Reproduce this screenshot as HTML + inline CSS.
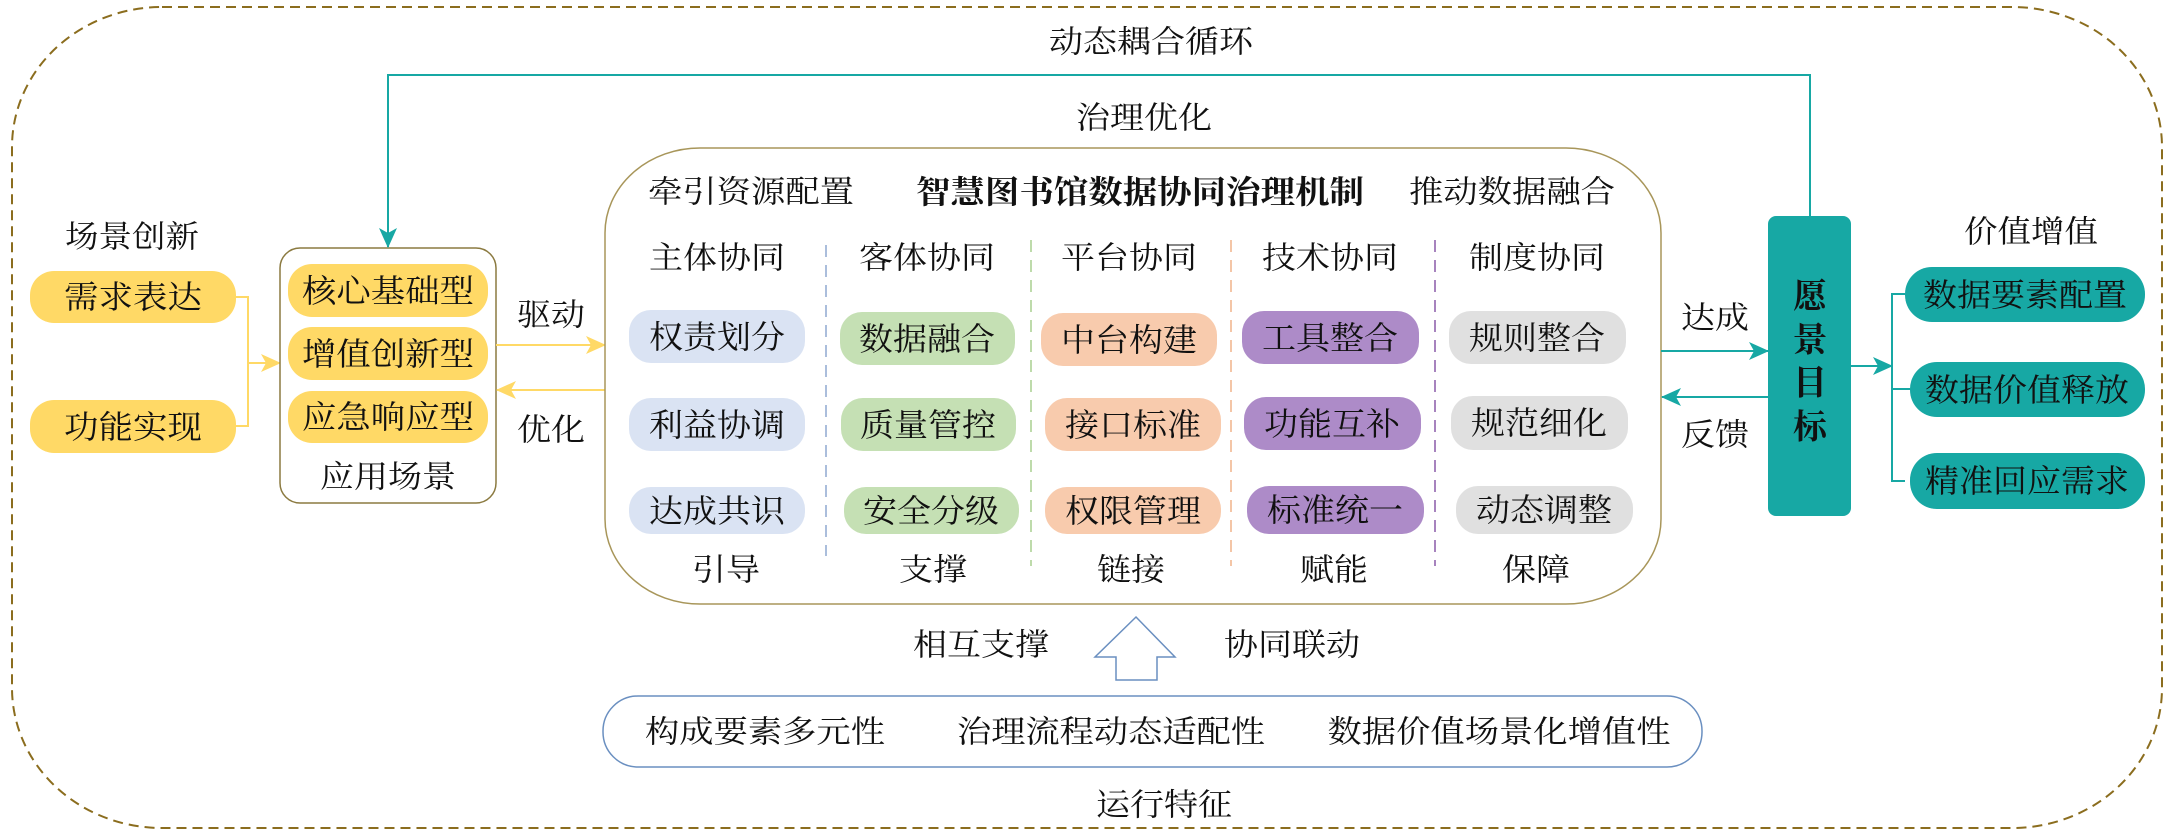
<!DOCTYPE html>
<html><head><meta charset="utf-8"><style>
html,body{margin:0;padding:0;background:#fff;}
svg{display:block;}
text{font-family:"Liberation Serif","Noto Serif CJK SC","Noto Sans CJK SC",serif;fill:#111;}
</style></head><body>
<svg width="2173" height="837" viewBox="0 0 2173 837" xmlns="http://www.w3.org/2000/svg">
<defs>
<marker id="tt" markerWidth="20" markerHeight="18" refX="19" refY="9" orient="auto" markerUnits="userSpaceOnUse"><path d="M0,0 L20,9 L0,18 L5,9 Z" fill="#17a8a4"/></marker>
<marker id="yy" markerWidth="20" markerHeight="18" refX="19" refY="9" orient="auto" markerUnits="userSpaceOnUse"><path d="M0,0 L20,9 L0,18 L5,9 Z" fill="#ffd966"/></marker>
</defs>
<rect x="12" y="7" width="2150" height="821" rx="150" ry="140" fill="none" stroke="#8b6d1e" stroke-width="2" stroke-dasharray="10,6"/>
<text x="1151" y="42" font-size="31" text-anchor="middle" dominant-baseline="central" textLength="204" lengthAdjust="spacingAndGlyphs">动态耦合循环</text>
<text x="1144" y="118" font-size="31" text-anchor="middle" dominant-baseline="central" textLength="136" lengthAdjust="spacingAndGlyphs">治理优化</text>
<!-- left -->
<text x="132" y="237" font-size="31" text-anchor="middle" dominant-baseline="central" textLength="134" lengthAdjust="spacingAndGlyphs">场景创新</text>
<rect x="30" y="271" width="206" height="52" rx="24" fill="#ffd966"/>
<text x="133" y="297" font-size="32" text-anchor="middle" dominant-baseline="central" textLength="138" lengthAdjust="spacingAndGlyphs">需求表达</text>
<rect x="30" y="400" width="206" height="53" rx="24" fill="#ffd966"/>
<text x="133" y="427" font-size="32" text-anchor="middle" dominant-baseline="central" textLength="138" lengthAdjust="spacingAndGlyphs">功能实现</text>
<polyline points="236,297 248,297 248,426 236,426" fill="none" stroke="#ffd966" stroke-width="2"/>
<line x1="248" y1="363" x2="280" y2="363" stroke="#ffd966" stroke-width="2" marker-end="url(#yy)"/>
<rect x="280" y="248" width="216" height="255" rx="20" fill="#fff" stroke="#8b7a40" stroke-width="1.5"/>
<rect x="288" y="264" width="200" height="53" rx="24" fill="#ffd966"/>
<text x="388" y="291" font-size="32" text-anchor="middle" dominant-baseline="central" textLength="172" lengthAdjust="spacingAndGlyphs">核心基础型</text>
<rect x="288" y="327" width="200" height="53" rx="24" fill="#ffd966"/>
<text x="388" y="354" font-size="32" text-anchor="middle" dominant-baseline="central" textLength="172" lengthAdjust="spacingAndGlyphs">增值创新型</text>
<rect x="288" y="391" width="200" height="52" rx="24" fill="#ffd966"/>
<text x="388" y="417" font-size="32" text-anchor="middle" dominant-baseline="central" textLength="172" lengthAdjust="spacingAndGlyphs">应急响应型</text>
<text x="388" y="477" font-size="31" text-anchor="middle" dominant-baseline="central" textLength="136" lengthAdjust="spacingAndGlyphs">应用场景</text>
<polyline points="1810,216 1810,75 388,75 388,247" fill="none" stroke="#17a8a4" stroke-width="2" marker-end="url(#tt)"/>
<line x1="496" y1="345" x2="605" y2="345" stroke="#ffd966" stroke-width="2" marker-end="url(#yy)"/>
<line x1="605" y1="390" x2="497" y2="390" stroke="#ffd966" stroke-width="2" marker-end="url(#yy)"/>
<text x="551" y="315" font-size="31" text-anchor="middle" dominant-baseline="central" textLength="68" lengthAdjust="spacingAndGlyphs">驱动</text>
<text x="551" y="430" font-size="31" text-anchor="middle" dominant-baseline="central" textLength="68" lengthAdjust="spacingAndGlyphs">优化</text>
<!-- main box -->
<rect x="605" y="148" width="1056" height="456" rx="95" ry="85" fill="#fff" stroke="#a8965a" stroke-width="1.5"/>
<text x="751" y="192" font-size="31" text-anchor="middle" dominant-baseline="central" textLength="206" lengthAdjust="spacingAndGlyphs">牵引资源配置</text>
<text x="1140" y="192" font-size="32" font-weight="bold" text-anchor="middle" dominant-baseline="central" textLength="448" lengthAdjust="spacingAndGlyphs">智慧图书馆数据协同治理机制</text>
<text x="1512" y="192" font-size="31" text-anchor="middle" dominant-baseline="central" textLength="206" lengthAdjust="spacingAndGlyphs">推动数据融合</text>
<g font-size="31" text-anchor="middle" lengthAdjust="spacingAndGlyphs">
<text x="717" y="258" dominant-baseline="central" textLength="136" lengthAdjust="spacingAndGlyphs">主体协同</text>
<text x="927" y="258" dominant-baseline="central" textLength="136" lengthAdjust="spacingAndGlyphs">客体协同</text>
<text x="1129" y="258" dominant-baseline="central" textLength="136" lengthAdjust="spacingAndGlyphs">平台协同</text>
<text x="1330" y="258" dominant-baseline="central" textLength="136" lengthAdjust="spacingAndGlyphs">技术协同</text>
<text x="1537" y="258" dominant-baseline="central" textLength="136" lengthAdjust="spacingAndGlyphs">制度协同</text>
<text x="726" y="570" dominant-baseline="central" textLength="68" lengthAdjust="spacingAndGlyphs">引导</text>
<text x="933" y="570" dominant-baseline="central" textLength="68" lengthAdjust="spacingAndGlyphs">支撑</text>
<text x="1131" y="570" dominant-baseline="central" textLength="68" lengthAdjust="spacingAndGlyphs">链接</text>
<text x="1334" y="570" dominant-baseline="central" textLength="68" lengthAdjust="spacingAndGlyphs">赋能</text>
<text x="1536" y="570" dominant-baseline="central" textLength="68" lengthAdjust="spacingAndGlyphs">保障</text>
</g>
<line x1="826" y1="245" x2="826" y2="556" stroke="#8fa9d0" stroke-width="1.5" stroke-dasharray="12,8"/>
<line x1="1031" y1="240" x2="1031" y2="566" stroke="#a9cf8f" stroke-width="1.5" stroke-dasharray="12,8"/>
<line x1="1231" y1="240" x2="1231" y2="566" stroke="#f0b48a" stroke-width="1.5" stroke-dasharray="12,8"/>
<line x1="1435" y1="240" x2="1435" y2="566" stroke="#8a5aa8" stroke-width="1.5" stroke-dasharray="12,8"/>
<g font-size="32" text-anchor="middle">
<rect x="629" y="310" width="176" height="53" rx="22" fill="#dae3f3"/><text x="717" y="337" dominant-baseline="central" textLength="136" lengthAdjust="spacingAndGlyphs">权责划分</text>
<rect x="629" y="398" width="176" height="53" rx="22" fill="#dae3f3"/><text x="717" y="425" dominant-baseline="central" textLength="136" lengthAdjust="spacingAndGlyphs">利益协调</text>
<rect x="629" y="487" width="176" height="47" rx="22" fill="#dae3f3"/><text x="717" y="511" dominant-baseline="central" textLength="136" lengthAdjust="spacingAndGlyphs">达成共识</text>
<rect x="840" y="312" width="175" height="53" rx="22" fill="#c5e0b4"/><text x="927" y="339" dominant-baseline="central" textLength="136" lengthAdjust="spacingAndGlyphs">数据融合</text>
<rect x="841" y="398" width="175" height="53" rx="22" fill="#c5e0b4"/><text x="928" y="425" dominant-baseline="central" textLength="136" lengthAdjust="spacingAndGlyphs">质量管控</text>
<rect x="844" y="487" width="175" height="47" rx="22" fill="#c5e0b4"/><text x="931" y="511" dominant-baseline="central" textLength="136" lengthAdjust="spacingAndGlyphs">安全分级</text>
<rect x="1041" y="313" width="176" height="53" rx="22" fill="#f8cbad"/><text x="1129" y="340" dominant-baseline="central" textLength="136" lengthAdjust="spacingAndGlyphs">中台构建</text>
<rect x="1045" y="398" width="176" height="53" rx="22" fill="#f8cbad"/><text x="1133" y="425" dominant-baseline="central" textLength="136" lengthAdjust="spacingAndGlyphs">接口标准</text>
<rect x="1045" y="487" width="176" height="47" rx="22" fill="#f8cbad"/><text x="1133" y="511" dominant-baseline="central" textLength="136" lengthAdjust="spacingAndGlyphs">权限管理</text>
<rect x="1242" y="311" width="177" height="53" rx="22" fill="#ad8bc8"/><text x="1330" y="338" dominant-baseline="central" textLength="136" lengthAdjust="spacingAndGlyphs">工具整合</text>
<rect x="1244" y="397" width="177" height="53" rx="22" fill="#ad8bc8"/><text x="1332" y="424" dominant-baseline="central" textLength="136" lengthAdjust="spacingAndGlyphs">功能互补</text>
<rect x="1247" y="486" width="177" height="48" rx="22" fill="#ad8bc8"/><text x="1335" y="510" dominant-baseline="central" textLength="136" lengthAdjust="spacingAndGlyphs">标准统一</text>
<rect x="1449" y="311" width="177" height="53" rx="22" fill="#e0e0e0"/><text x="1537" y="338" dominant-baseline="central" textLength="136" lengthAdjust="spacingAndGlyphs">规则整合</text>
<rect x="1451" y="396" width="177" height="54" rx="22" fill="#e0e0e0"/><text x="1539" y="423" dominant-baseline="central" textLength="136" lengthAdjust="spacingAndGlyphs">规范细化</text>
<rect x="1456" y="486" width="177" height="48" rx="22" fill="#e0e0e0"/><text x="1544" y="510" dominant-baseline="central" textLength="136" lengthAdjust="spacingAndGlyphs">动态调整</text>
</g>
<!-- right side -->
<line x1="1661" y1="351" x2="1768" y2="351" stroke="#17a8a4" stroke-width="2" marker-end="url(#tt)"/>
<line x1="1768" y1="397" x2="1662" y2="397" stroke="#17a8a4" stroke-width="2" marker-end="url(#tt)"/>
<text x="1715" y="318" font-size="31" text-anchor="middle" dominant-baseline="central" textLength="68" lengthAdjust="spacingAndGlyphs">达成</text>
<text x="1715" y="435" font-size="31" text-anchor="middle" dominant-baseline="central" textLength="68" lengthAdjust="spacingAndGlyphs">反馈</text>
<rect x="1768" y="216" width="83" height="300" rx="8" fill="#17a8a4"/>
<g font-size="34" font-weight="bold" text-anchor="middle">
<text x="1810" y="297" dominant-baseline="central">愿</text>
<text x="1810" y="341" dominant-baseline="central">景</text>
<text x="1810" y="384" dominant-baseline="central">目</text>
<text x="1810" y="428" dominant-baseline="central">标</text>
</g>
<line x1="1851" y1="366" x2="1892" y2="366" stroke="#17a8a4" stroke-width="2" marker-end="url(#tt)"/>
<polyline points="1905,294 1892,294 1892,481 1905,481" fill="none" stroke="#17a8a4" stroke-width="2"/>
<line x1="1892" y1="389" x2="1910" y2="389" stroke="#17a8a4" stroke-width="2"/>
<text x="2031" y="232" font-size="31" text-anchor="middle" dominant-baseline="central" textLength="134" lengthAdjust="spacingAndGlyphs">价值增值</text>
<g font-size="32" text-anchor="middle">
<rect x="1905" y="267" width="240" height="55" rx="27" fill="#17a8a4"/><text x="2025" y="295" dominant-baseline="central" textLength="204" lengthAdjust="spacingAndGlyphs">数据要素配置</text>
<rect x="1910" y="362" width="235" height="55" rx="27" fill="#17a8a4"/><text x="2027" y="390" dominant-baseline="central" textLength="204" lengthAdjust="spacingAndGlyphs">数据价值释放</text>
<rect x="1910" y="453" width="235" height="56" rx="27" fill="#17a8a4"/><text x="2027" y="481" dominant-baseline="central" textLength="204" lengthAdjust="spacingAndGlyphs">精准回应需求</text>
</g>
<!-- bottom -->
<path d="M1136,617 L1175,657 L1157,657 L1157,680 L1116,680 L1116,657 L1095,657 Z" fill="#fff" stroke="#6a8fc0" stroke-width="1.5"/>
<text x="981" y="645" font-size="31" text-anchor="middle" dominant-baseline="central" textLength="136" lengthAdjust="spacingAndGlyphs">相互支撑</text>
<text x="1292" y="645" font-size="31" text-anchor="middle" dominant-baseline="central" textLength="136" lengthAdjust="spacingAndGlyphs">协同联动</text>
<rect x="603" y="696" width="1099" height="71" rx="35" fill="#fff" stroke="#6a8fc0" stroke-width="1.5"/>
<text x="765" y="732" font-size="31" text-anchor="middle" dominant-baseline="central" textLength="240" lengthAdjust="spacingAndGlyphs">构成要素多元性</text>
<text x="1111" y="732" font-size="31" text-anchor="middle" dominant-baseline="central" textLength="308" lengthAdjust="spacingAndGlyphs">治理流程动态适配性</text>
<text x="1499" y="732" font-size="31" text-anchor="middle" dominant-baseline="central" textLength="343" lengthAdjust="spacingAndGlyphs">数据价值场景化增值性</text>
<text x="1164" y="805" font-size="31" text-anchor="middle" dominant-baseline="central" textLength="136" lengthAdjust="spacingAndGlyphs">运行特征</text>
</svg>
</body></html>
